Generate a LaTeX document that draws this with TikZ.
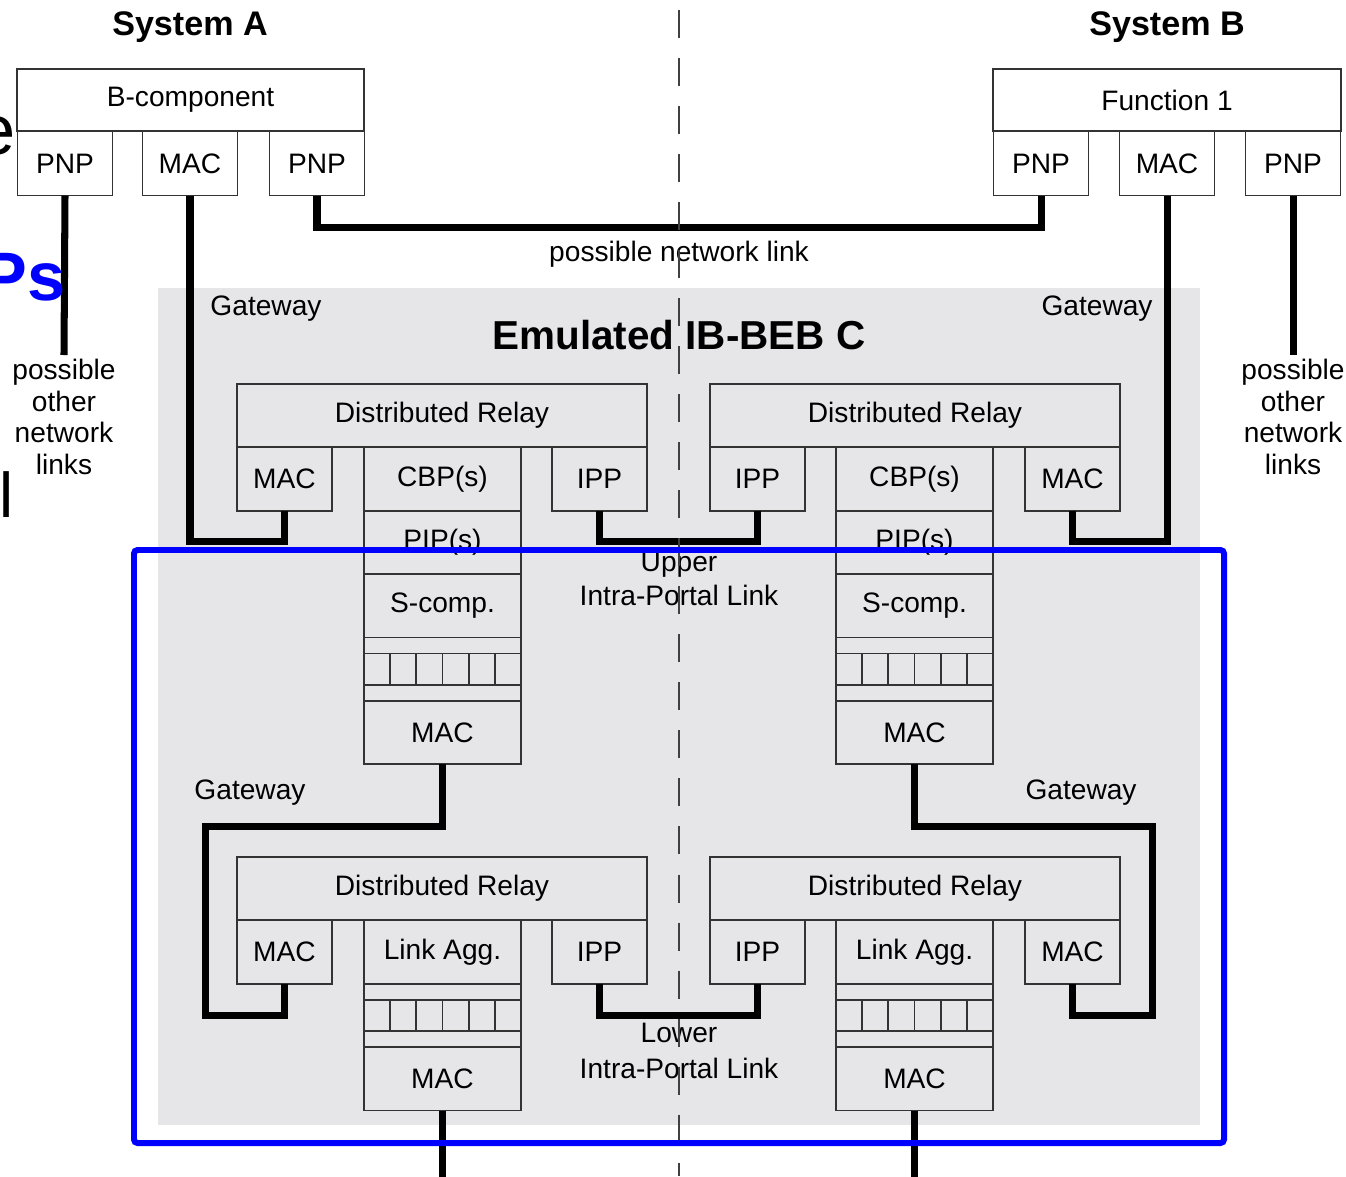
\documentclass[tikz,border=0pt]{standalone}
\usepackage{fontspec}
\setmainfont{Liberation Sans}
\usepackage{xcolor,tikz}
\usetikzlibrary{calc,positioning}
\definecolor{gwgray}{HTML}{E6E5E7}
\definecolor{boxline}{HTML}{333333}
\tikzset{
  blk/.style={draw=boxline, line width=0.5pt, inner sep=0pt, outer sep=0pt, minimum height=0.64cm},
  port/.style={blk, minimum width=0.95cm},
  relay/.style={blk, minimum width=4.10cm, minimum height=0.63cm},
  stk/.style={blk, minimum width=1.57cm, minimum height=0.632cm},
  link/.style={line width=2pt},
  lbl/.style={inner sep=1pt, align=center},
  other/.style={inner sep=1pt, align=center, anchor=north, font=\fontsize{8}{9}\selectfont},
  cut/.style={anchor=base east, inner sep=0pt},
}

\begin{document}
\begin{tikzpicture}[x=0.01cm, y=-0.01cm, font=\fontsize{8}{9.6}\selectfont]
\useasboundingbox (0,0) rectangle (1346,1176);
% emulated system
\fill[gwgray] (158,288) rectangle (1200,1125);

% system A
\node[font=\fontsize{9.7}{11}\selectfont\bfseries] (sysA) at (190,27) {System A};
\node[blk, minimum width=3.47cm, minimum height=0.62cm] (bcomp) at (190.5,100) {B-component};
\node[port] (pnpA1) at (65,163.5) {PNP};
\node[port] (macA) at (190,163.5) {MAC};
\node[port] (pnpA2) at (317,163.5) {PNP};

% system B
\node[font=\fontsize{9.7}{11}\selectfont\bfseries] (sysB) at (1167,27) {System B};
\node[blk, minimum width=3.48cm, minimum height=0.62cm] (func) at (1167,100) {Function 1};
\node[port] (pnpB1) at (1041,163.5) {PNP};
\node[port] (macB) at (1167,163.5) {MAC};
\node[port] (pnpB2) at (1293,163.5) {PNP};

\node[other] (othA) at (64,355) {possible\\other\\network\\links};
\node[other] (othB) at (1293,355) {possible\\other\\network\\links};
\node[lbl] (netlink) at (679,254) {possible network link};
\node[font=\fontsize{11.5}{13}\selectfont\bfseries] (emu) at (679,335) {Emulated IB-BEB C};

\node[lbl] (gwUL) at (266,309) {Gateway};
\node[lbl] (gwUR) at (1097,309) {Gateway};
\node[lbl] (gwLL) at (250,793) {Gateway};
\node[lbl] (gwLR) at (1081,793) {Gateway};

% upper left gateway
\node[relay] (relUL) at (442,415.5) {Distributed Relay};
\node[port] (macUL) at (284.5,479) {MAC};
\node[stk, minimum height=0.64cm] (cbpUL) at (442.5,479) {CBP(s)};
\node[port] (ippUL) at (599.5,479) {IPP};
\node[stk, below=0pt of cbpUL] (pipUL) {PIP(s)};
\node[stk, below=0pt of pipUL] (scUL) {S-comp.};
\node[stk, below=0pt of scUL] (qUL) {};
\node[stk, below=0pt of qUL] (mUL) {MAC};

% upper right gateway
\node[relay] (relUR) at (915,415.5) {Distributed Relay};
\node[port] (ippUR) at (757.5,479) {IPP};
\node[stk, minimum height=0.64cm] (cbpUR) at (914.5,479) {CBP(s)};
\node[port] (macUR) at (1072.5,479) {MAC};
\node[stk, below=0pt of cbpUR] (pipUR) {PIP(s)};
\node[stk, below=0pt of pipUR] (scUR) {S-comp.};
\node[stk, below=0pt of scUR] (qUR) {};
\node[stk, below=0pt of qUR] (mUR) {MAC};

% lower left gateway
\node[relay] (relLL) at (442,888.5) {Distributed Relay};
\node[port] (macLL) at (284.5,952) {MAC};
\node[stk, minimum height=0.64cm] (lagLL) at (442.5,952) {Link Agg.};
\node[port] (ippLL) at (599.5,952) {IPP};
\node[stk, below=0pt of lagLL] (qLL) {};
\node[stk, below=0pt of qLL] (mLL) {MAC};

% lower right gateway
\node[relay] (relLR) at (915,888.5) {Distributed Relay};
\node[port] (ippLR) at (757.5,952) {IPP};
\node[stk, minimum height=0.64cm] (lagLR) at (914.5,952) {Link Agg.};
\node[port] (macLR) at (1072.5,952) {MAC};
\node[stk, below=0pt of lagLR] (qLR) {};
\node[stk, below=0pt of qLR] (mLR) {MAC};

% queues
\foreach \q in {qUL,qUR,qLL,qLR}{
  \draw[boxline, line width=0.5pt] ($(\q.north west)+(0,16)$) -- ($(\q.north east)+(0,16)$)
    ($(\q.south west)+(0,-16)$) -- ($(\q.south east)+(0,-16)$);
  \foreach \i in {1,...,5}
    \draw[boxline, line width=0.5pt] ($(\q.north west)!\i/6!(\q.north east)+(0,16)$)
      -- ($(\q.south west)!\i/6!(\q.south east)+(0,-16)$);
}

\node[lbl] (upIPL) at (679,579) {Upper\\Intra-Portal Link};
\node[lbl] (loIPL) at (679,1051) {Lower\\[0.5pt]Intra-Portal Link};

% links
\coordinate (outL) at (442.5,1180);
\coordinate (outR) at (914.5,1180);
\draw[link] (pnpA1.south) -- (othA.north);
\draw[link] (pnpB2.south) -- (othB.north);
\draw[link] (pnpA2.south) -- ++(0,32) -| (pnpB1.south);
\draw[link] (macA.south) -- ++(0,345.5) -| (macUL.south);
\draw[link] (macB.south) -- ++(0,345.5) -| (macUR.south);
\draw[link] (ippUL.south) -- ++(0,30) -| (ippUR.south);
\draw[link] (mUL.south) -- ++(0,63) -| ($(macLL.south)+(-79,31)$) -| (macLL.south);
\draw[link] (mUR.south) -- ++(0,63) -| ($(macLR.south)+(80,31)$) -| (macLR.south);
\draw[link] (ippLL.south) -- ++(0,31) -| (ippLR.south);
\draw[link] (mLL.south) -- (outL);
\draw[link] (mLR.south) -- (outR);

% divider
\draw[black!75, line width=0.4pt, dash pattern=on 0.28cm off 0.2cm] (679,10) -- (679,1176);

% cut-off fragments
\node[cut, font=\fontsize{20}{24}\selectfont] (cutE) at (16,155) {e};
\node[cut, text=blue, font=\fontsize{19.5}{23}\selectfont\bfseries] (cutPs) at (66,300) {Ps};
\node[cut, font=\fontsize{18}{22}\selectfont] (cutL) at (14,517) {l};

\draw[blue, line width=1.7pt, rounded corners=1pt] (134,550) rectangle (1224,1143);
\end{tikzpicture}
\end{document}
